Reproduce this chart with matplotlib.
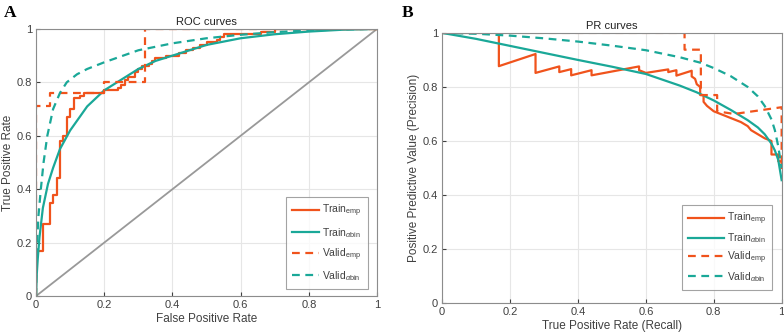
import matplotlib
matplotlib.use("Agg")
import matplotlib.pyplot as plt

plt.rcParams["font.family"] = ["Liberation Sans", "DejaVu Sans"]
plt.rcParams["mathtext.fontset"] = "custom"
plt.rcParams["mathtext.rm"] = "Liberation Sans"
plt.rcParams["mathtext.it"] = "Liberation Sans:italic"

ORANGE = "#f0531c"
TEAL = "#1aa898"
GRID = "#e6e6e6"
EDGE = "#8c8c8c"
TXT = "#404040"

# ---------------- ROC data ----------------
# empirical curves: corner points of the staircase (fpr, tpr)
roc_train_emp_fpr = [0, 0, 0.02, 0.04, 0.05, 0.06, 0.07, 0.08, 0.09, 0.10, 0.11, 0.13, 0.14,
                     0.20, 0.24, 0.25, 0.26, 0.27, 0.28, 0.29, 0.30, 0.31, 0.33, 0.34, 0.35,
                     0.38, 0.42, 0.44, 0.46, 0.48, 0.50, 0.53, 0.54, 0.55, 0.66, 0.70, 1.0]
roc_train_emp_tpr = [0, 0.17, 0.27, 0.35, 0.38, 0.44, 0.58, 0.60, 0.67, 0.70, 0.74, 0.75, 0.76,
                     0.77, 0.78, 0.79, 0.81, 0.82, 0.82, 0.84, 0.85, 0.86, 0.87, 0.88, 0.89,
                     0.90, 0.91, 0.92, 0.93, 0.94, 0.95, 0.96, 0.97, 0.98, 0.99, 1.0, 1.0]

roc_valid_emp_fpr = [0, 0, 0.04, 0.20, 0.32, 1.0]
roc_valid_emp_tpr = [0, 0.71, 0.76, 0.80, 1.0, 1.0]

roc_train_bin_fpr = [0, 0.002, 0.005, 0.01, 0.02, 0.035, 0.05, 0.07, 0.10, 0.15, 0.20, 0.25,
                     0.30, 0.35, 0.40, 0.50, 0.60, 0.70, 0.80, 0.90, 1.0]
roc_train_bin_tpr = [0, 0.08, 0.14, 0.22, 0.33, 0.42, 0.48, 0.55, 0.62, 0.71, 0.77, 0.81,
                     0.85, 0.88, 0.90, 0.94, 0.965, 0.98, 0.99, 0.997, 1.0]

roc_valid_bin_fpr = [0, 0.001, 0.003, 0.007, 0.014, 0.022, 0.033, 0.05, 0.07, 0.09, 0.12,
                     0.15, 0.20, 0.30, 0.40, 0.50, 0.60, 0.70, 0.80, 0.90, 1.0]
roc_valid_bin_tpr = [0, 0.10, 0.20, 0.30, 0.40, 0.50, 0.60, 0.70, 0.76, 0.80, 0.83,
                     0.85, 0.875, 0.92, 0.946, 0.965, 0.978, 0.988, 0.994, 0.998, 1.0]

# ---------------- PR data ----------------
pr_train_emp_rec = [0, 0.167, 0.167, 0.275, 0.275, 0.345, 0.345, 0.38, 0.38, 0.44, 0.44,
                    0.58, 0.58, 0.60, 0.666, 0.666, 0.69, 0.69, 0.735, 0.735, 0.745, 0.75,
                    0.76, 0.76, 0.77, 0.77, 0.78, 0.79, 0.80, 0.82, 0.84, 0.86, 0.88, 0.90,
                    0.91, 0.93, 0.95, 0.97, 0.97, 0.99, 0.99, 1.0, 1.0]
pr_train_emp_prec = [1.0, 1.0, 0.877, 0.922, 0.852, 0.876, 0.855, 0.866, 0.843, 0.862, 0.843,
                     0.876, 0.862, 0.852, 0.865, 0.855, 0.862, 0.842, 0.86, 0.839, 0.83, 0.81,
                     0.80, 0.77, 0.77, 0.745, 0.73, 0.72, 0.71, 0.70, 0.69, 0.68, 0.67, 0.655,
                     0.64, 0.625, 0.61, 0.60, 0.55, 0.55, 0.525, 0.525, 0.50]

pr_valid_emp_rec = [0, 0.714, 0.714, 0.762, 0.762, 0.81, 0.81, 0.86, 1.0, 1.0]
pr_valid_emp_prec = [1.0, 1.0, 0.938, 0.938, 0.77, 0.77, 0.71, 0.70, 0.725, 0.50]

pr_train_bin_rec = [0, 0.1, 0.2, 0.3, 0.4, 0.5, 0.6, 0.7, 0.75, 0.8, 0.85, 0.9, 0.93, 0.95,
                    0.97, 0.98, 0.99, 1.0]
pr_train_bin_prec = [1.0, 0.978, 0.952, 0.926, 0.90, 0.875, 0.848, 0.805, 0.78, 0.75, 0.715,
                     0.677, 0.65, 0.625, 0.59, 0.565, 0.53, 0.455]

pr_valid_bin_rec = [0, 0.1, 0.2, 0.3, 0.4, 0.5, 0.6, 0.7, 0.76, 0.8, 0.85, 0.9, 0.93, 0.95,
                    0.97, 0.98, 0.99, 1.0]
pr_valid_bin_prec = [1.0, 0.997, 0.99, 0.98, 0.968, 0.953, 0.936, 0.91, 0.89, 0.87, 0.84,
                     0.80, 0.765, 0.73, 0.68, 0.64, 0.58, 0.50]

ticks = [0, 0.2, 0.4, 0.6, 0.8, 1.0]
tick_labels = ["0", "0.2", "0.4", "0.6", "0.8", "1"]

labels = [r"Train$_{\mathrm{emp}}$", r"Train$_{\alpha\mathrm{bin}}$",
          r"Valid$_{\mathrm{emp}}$", r"Valid$_{\alpha\mathrm{bin}}$"]

DASH = (0, (3.5, 2.5))


def style_axes(ax, title, xlabel, ylabel):
    ax.set_xlim(0, 1)
    ax.set_ylim(0, 1)
    ax.set_xticks(ticks)
    ax.set_yticks(ticks)
    ax.set_xticklabels(tick_labels)
    ax.set_yticklabels(tick_labels)
    ax.grid(True, color=GRID, linewidth=0.8)
    ax.set_axisbelow(True)
    ax.tick_params(direction="in", length=3, labelsize=8, colors=TXT, pad=3,
                   top=False, right=False)
    for s in ax.spines.values():
        s.set_color(EDGE)
        s.set_linewidth(0.8)
    ax.set_title(title, fontsize=8, color="#222222", pad=3)
    ax.set_xlabel(xlabel, fontsize=8.5, color=TXT, labelpad=2)
    ax.set_ylabel(ylabel, fontsize=8.5, color=TXT, labelpad=2)


def add_legend(ax, handles, anchor, spacing, hlen):
    leg = ax.legend(handles, labels, loc="lower right", bbox_to_anchor=anchor, fontsize=7.5,
                    frameon=True, fancybox=False, handlelength=hlen, handletextpad=0.3,
                    labelspacing=spacing, borderpad=0.6, borderaxespad=0.0)
    leg.get_frame().set_edgecolor(EDGE)
    leg.get_frame().set_linewidth(0.8)
    for t in leg.get_texts():
        t.set_color(TXT)


fig = plt.figure(figsize=(7.84, 3.36), dpi=100)

# A: ROC
ax1 = fig.add_axes([0.046, 0.119, 0.435, 0.795])
ax1.plot([0, 1], [0, 1], color="#999999", lw=1.3, zorder=1)
h1 = ax1.plot(roc_train_emp_fpr, roc_train_emp_tpr, color=ORANGE, lw=1.6,
              drawstyle="steps-post")[0]
h2 = ax1.plot(roc_train_bin_fpr, roc_train_bin_tpr, color=TEAL, lw=1.6)[0]
h3 = ax1.plot(roc_valid_emp_fpr, roc_valid_emp_tpr, color=ORANGE, lw=1.6, ls=DASH,
              drawstyle="steps-post")[0]
h4 = ax1.plot(roc_valid_bin_fpr, roc_valid_bin_tpr, color=TEAL, lw=1.6, ls=DASH)[0]
style_axes(ax1, "ROC curves", "False Positive Rate", "True Positive Rate")
add_legend(ax1, [h1, h2, h3, h4], (0.973, 0.026), 0.62, 2.6)

# B: PR
ax2 = fig.add_axes([0.564, 0.098, 0.433, 0.804])
g1 = ax2.plot(pr_train_emp_rec, pr_train_emp_prec, color=ORANGE, lw=1.6)[0]
g2 = ax2.plot(pr_train_bin_rec, pr_train_bin_prec, color=TEAL, lw=1.6)[0]
g3 = ax2.plot(pr_valid_emp_rec, pr_valid_emp_prec, color=ORANGE, lw=1.6, ls=DASH)[0]
g4 = ax2.plot(pr_valid_bin_rec, pr_valid_bin_prec, color=TEAL, lw=1.6, ls=DASH)[0]
style_axes(ax2, "PR curves", "True Positive Rate (Recall)",
           "Positive Predictive Value (Precision)")
add_legend(ax2, [g1, g2, g3, g4], (0.973, 0.048), 0.4, 3.4)

fig.text(0.005, 0.96, "A", fontsize=12.5, fontweight="bold", family="Liberation Serif",
         va="center")
fig.text(0.512, 0.96, "B", fontsize=12.5, fontweight="bold", family="Liberation Serif",
         va="center")

fig.savefig("out.png", dpi=100)
